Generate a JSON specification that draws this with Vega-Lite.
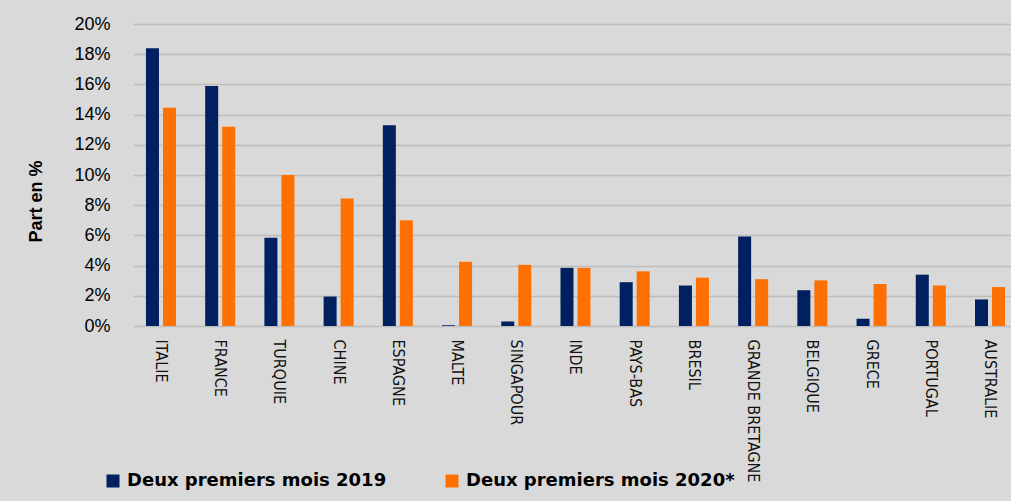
{
  "$schema": "https://vega.github.io/schema/vega-lite/v6.json",
  "width": 878,
  "height": 302,
  "autosize": {"type": "none"},
  "padding": {"left": 133, "top": 24, "right": 0, "bottom": 175},
  "background": "#d9d9d9",
  "config": {"view": {"stroke": null}},
  "data": {
    "values": [
      {"pays": "ITALIE", "serie": "Deux premiers mois 2019", "part": 18.4},
      {"pays": "ITALIE", "serie": "Deux premiers mois 2020*", "part": 14.45},
      {"pays": "FRANCE", "serie": "Deux premiers mois 2019", "part": 15.9},
      {"pays": "FRANCE", "serie": "Deux premiers mois 2020*", "part": 13.2},
      {"pays": "TURQUIE", "serie": "Deux premiers mois 2019", "part": 5.85},
      {"pays": "TURQUIE", "serie": "Deux premiers mois 2020*", "part": 10.0},
      {"pays": "CHINE", "serie": "Deux premiers mois 2019", "part": 1.95},
      {"pays": "CHINE", "serie": "Deux premiers mois 2020*", "part": 8.45},
      {"pays": "ESPAGNE", "serie": "Deux premiers mois 2019", "part": 13.3},
      {"pays": "ESPAGNE", "serie": "Deux premiers mois 2020*", "part": 7.0},
      {"pays": "MALTE", "serie": "Deux premiers mois 2019", "part": 0.05},
      {"pays": "MALTE", "serie": "Deux premiers mois 2020*", "part": 4.25},
      {"pays": "SINGAPOUR", "serie": "Deux premiers mois 2019", "part": 0.3},
      {"pays": "SINGAPOUR", "serie": "Deux premiers mois 2020*", "part": 4.05},
      {"pays": "INDE", "serie": "Deux premiers mois 2019", "part": 3.85},
      {"pays": "INDE", "serie": "Deux premiers mois 2020*", "part": 3.85},
      {"pays": "PAYS-BAS", "serie": "Deux premiers mois 2019", "part": 2.9},
      {"pays": "PAYS-BAS", "serie": "Deux premiers mois 2020*", "part": 3.62},
      {"pays": "BRESIL", "serie": "Deux premiers mois 2019", "part": 2.68},
      {"pays": "BRESIL", "serie": "Deux premiers mois 2020*", "part": 3.2},
      {"pays": "GRANDE BRETAGNE", "serie": "Deux premiers mois 2019", "part": 5.92},
      {"pays": "GRANDE BRETAGNE", "serie": "Deux premiers mois 2020*", "part": 3.1},
      {"pays": "BELGIQUE", "serie": "Deux premiers mois 2019", "part": 2.37},
      {"pays": "BELGIQUE", "serie": "Deux premiers mois 2020*", "part": 3.02},
      {"pays": "GRECE", "serie": "Deux premiers mois 2019", "part": 0.48},
      {"pays": "GRECE", "serie": "Deux premiers mois 2020*", "part": 2.78},
      {"pays": "PORTUGAL", "serie": "Deux premiers mois 2019", "part": 3.4},
      {"pays": "PORTUGAL", "serie": "Deux premiers mois 2020*", "part": 2.68},
      {"pays": "AUSTRALIE", "serie": "Deux premiers mois 2019", "part": 1.76},
      {"pays": "AUSTRALIE", "serie": "Deux premiers mois 2020*", "part": 2.58}
    ]
  },
  "mark": {"type": "bar"},
  "encoding": {
    "x": {
      "field": "pays",
      "type": "nominal",
      "sort": ["ITALIE", "FRANCE", "TURQUIE", "CHINE", "ESPAGNE", "MALTE", "SINGAPOUR", "INDE", "PAYS-BAS", "BRESIL", "GRANDE BRETAGNE", "BELGIQUE", "GRECE", "PORTUGAL", "AUSTRALIE"],
      "scale": {"paddingInner": 0.493, "paddingOuter": 0.16, "align": 0.684},
      "axis": {
        "title": null,
        "domain": false,
        "ticks": false,
        "tickSize": 0,
        "labelAngle": 90,
        "labelAlign": "left",
        "labelBaseline": "middle",
        "labelPadding": 13,
        "labelFont": "Liberation Sans Narrow, DejaVu Sans Condensed, Liberation Sans",
        "labelFontSize": 16,
        "labelColor": "#111111",
        "labelLimit": 300
      }
    },
    "xOffset": {
      "field": "serie",
      "type": "nominal",
      "scale": {"paddingInner": 0.235, "paddingOuter": 0}
    },
    "y": {
      "field": "part",
      "type": "quantitative",
      "scale": {"domain": [0, 20], "nice": false},
      "axis": {
        "title": "Part en %",
        "titleFont": "Liberation Sans",
        "titleFontSize": 18,
        "titleFontWeight": "bold",
        "titleColor": "#000000",
        "titleY": 177,
        "titlePadding": 28,
        "values": [0, 2, 4, 6, 8, 10, 12, 14, 16, 18, 20],
        "labelExpr": "datum.value + '%'",
        "domain": false,
        "ticks": false,
        "tickSize": 0,
        "labelPadding": 23,
        "labelFont": "Liberation Sans",
        "labelFontSize": 18,
        "labelColor": "#000000",
        "grid": true,
        "gridColor": "#bdbdbd",
        "gridWidth": 1.3
      }
    },
    "color": {
      "field": "serie",
      "type": "nominal",
      "scale": {"domain": ["Deux premiers mois 2019", "Deux premiers mois 2020*"], "range": ["#002060", "#ff7000"]},
      "legend": {
        "title": null,
        "orient": "none",
        "direction": "horizontal",
        "legendX": -29,
        "legendY": 448,
        "padding": 0,
        "symbolType": "square",
        "symbolSize": 169,
        "symbolStrokeWidth": 0,
        "symbolOpacity": 1,
        "labelFont": "DejaVu Sans",
        "labelFontWeight": "bold",
        "labelFontSize": 18,
        "labelColor": "#000000",
        "labelOffset": 5,
        "labelLimit": 400,
        "columnPadding": 56
      }
    }
  }
}
